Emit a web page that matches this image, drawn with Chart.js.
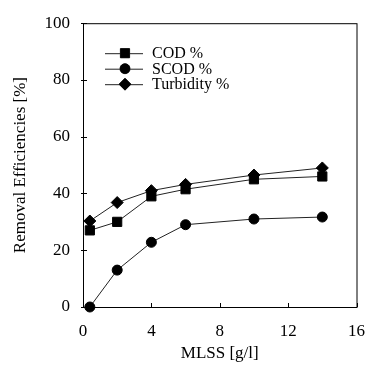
<!DOCTYPE html>
<html>
<head>
<meta charset="utf-8">
<script src="https://cdn.jsdelivr.net/npm/chart.js@4/dist/chart.umd.min.js"></script>
<style>
  html, body { margin: 0; padding: 0; background: #fff; }
  #wrap { width: 379px; height: 365px; }
</style>
</head>
<body>
<div id="wrap"><canvas id="chart" width="379" height="365"></canvas></div>
<script>
// MLSS [g/l]
const mlss = [0.4, 2, 4, 6, 10, 14];
// removal efficiencies [%]
const cod = [27, 30, 39, 41.5, 45, 46];
const scod = [0, 13, 22.8, 29, 31, 31.7];
const turbidity = [30.3, 36.8, 41, 43.2, 46.5, 49];
const seriesNames = ['COD %', 'SCOD %', 'Turbidity %'];
const xTicks = [0, 4, 8, 12, 16];
const yTicks = [0, 20, 40, 60, 80, 100];

const serif = 'Liberation Serif, Times New Roman, serif';

const toPoints = (ys) => mlss.map((x, i) => ({ x: x, y: ys[i] }));

const makeSet = (label, ys, style, radius) => ({
    label: label,
    data: toPoints(ys),
    borderColor: '#222',
    borderWidth: 1,
    backgroundColor: '#000',
    pointBackgroundColor: '#000',
    pointBorderColor: '#000',
    pointBorderWidth: 1,
    pointStyle: style,
    pointRadius: radius,
    clip: false,
    tension: 0
});

// frame, inward ticks and the legend box drawn inside the plot
const framePlugin = {
    id: 'frame',
    afterDraw(chart) {
        const { ctx, chartArea: a, scales } = chart;
        ctx.save();
        ctx.strokeStyle = '#000';
        ctx.lineWidth = 1;
        ctx.strokeRect(a.left + 0.5, a.top + 0.5, a.right - a.left, a.bottom - a.top);
        ctx.beginPath();
        xTicks.forEach(v => {
            const px = Math.round(scales.x.getPixelForValue(v)) + 0.5;
            ctx.moveTo(px, a.bottom);
            ctx.lineTo(px, a.bottom - 4);
        });
        yTicks.forEach(v => {
            const py = Math.round(scales.y.getPixelForValue(v)) + 0.5;
            ctx.moveTo(a.left - 2, py);
            ctx.lineTo(a.left + 4, py);
        });
        ctx.stroke();

        // legend
        const lx = a.left + 22;
        let ly = a.top + 30;
        ctx.font = '16px ' + serif;
        ctx.textBaseline = 'middle';
        ctx.fillStyle = '#000';
        chart.data.datasets.forEach(ds => {
            ctx.beginPath();
            ctx.strokeStyle = '#222';
            ctx.moveTo(lx, ly + 0.5);
            ctx.lineTo(lx + 38, ly + 0.5);
            ctx.stroke();
            Chart.helpers.drawPoint(ctx, {
                pointStyle: ds.pointStyle,
                radius: ds.pointRadius,
                borderWidth: 1
            }, lx + 20, ly);
            ctx.fill();
            ctx.fillText(ds.label, lx + 47, ly + 1);
            ly += 15.5;
        });
        ctx.restore();
    }
};

new Chart(document.getElementById('chart'), {
    type: 'line',
    data: {
        datasets: [
            makeSet(seriesNames[0], cod, 'rect', 6.5),
            makeSet(seriesNames[1], scod, 'circle', 5),
            makeSet(seriesNames[2], turbidity, 'rectRot', 6)
        ]
    },
    options: {
        responsive: false,
        animation: false,
        layout: { padding: { top: 22, right: 10, left: 0, bottom: 0 } },
        plugins: {
            legend: { display: false },
            tooltip: { enabled: false }
        },
        scales: {
            x: {
                type: 'linear',
                min: 0,
                max: 16,
                afterFit: (s) => { s.height = 58; },
                afterBuildTicks: (s) => { s.ticks = xTicks.map(v => ({ value: v })); },
                grid: { display: false, drawTicks: false },
                border: { display: false },
                ticks: { color: '#000', padding: 14, font: { family: serif, size: 17 } },
                title: {
                    display: true,
                    text: 'MLSS [g/l]',
                    color: '#000',
                    padding: { top: 0, bottom: 1 },
                    font: { family: serif, size: 17 }
                }
            },
            y: {
                min: 0,
                max: 100,
                afterFit: (s) => { s.width = 83; },
                afterBuildTicks: (s) => { s.ticks = yTicks.map(v => ({ value: v })); },
                grid: { display: false, drawTicks: false },
                border: { display: false },
                ticks: { color: '#000', padding: 13, font: { family: serif, size: 17 } },
                title: {
                    display: true,
                    text: 'Removal Efficiencies [%]',
                    color: '#000',
                    padding: { top: 10, bottom: 0 },
                    font: { family: serif, size: 17 }
                }
            }
        }
    },
    plugins: [framePlugin]
});
</script>
</body>
</html>
